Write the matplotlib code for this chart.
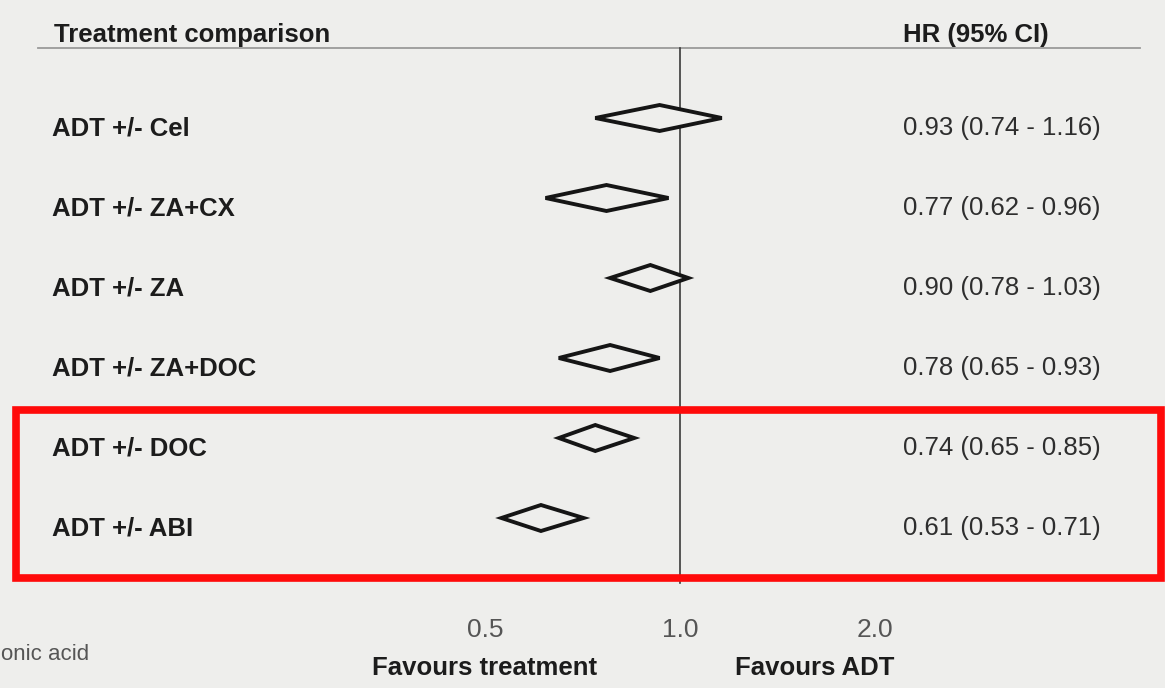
import numpy as np
import matplotlib
matplotlib.use("Agg")
import matplotlib.pyplot as plt
from matplotlib.patches import Polygon, Rectangle

# Hazard ratios with 95% CI for each treatment comparison
comparisons = ["ADT +/- Cel", "ADT +/- ZA+CX", "ADT +/- ZA", "ADT +/- ZA+DOC",
               "ADT +/- DOC", "ADT +/- ABI"]
hr = [0.93, 0.77, 0.90, 0.78, 0.74, 0.61]
ci_low = [0.74, 0.62, 0.78, 0.65, 0.65, 0.53]
ci_high = [1.16, 0.96, 1.03, 0.93, 0.85, 0.71]
highlighted = ["ADT +/- DOC", "ADT +/- ABI"]
x_ticks = [0.5, 1.0, 2.0]

plt.rcParams['font.family'] = ['Liberation Sans', 'DejaVu Sans']
bg = "#eeeeec"
ink = "#1c1c1c"

W, H = 1165, 688
fig = plt.figure(figsize=(W / 100, H / 100), dpi=100, facecolor=bg)
ax = fig.add_axes([0, 0, 1, 1])
ax.set_facecolor(bg)
ax.axis("off")

# log2 axis: HR 1.0 sits at x=680 px, one doubling is ~195 px
x_ref, per_doubling = 680, 195
ax.set_xscale("log", base=2)
ax.set_xlim(2 ** (-x_ref / per_doubling), 2 ** ((W - x_ref) / per_doubling))
ax.set_ylim(H, 0)

ytr = ax.get_yaxis_transform()   # x in axes fraction, y in pixel rows
def px(x):
    return x / W

row_top, row_step = 128, 80
rows = [row_top + row_step * i for i in range(len(comparisons))]

# header
ax.plot([px(38), px(1140)], [48, 48], transform=ytr, color="#9a9a9a", lw=1.3)
ax.text(px(54), 35, "Treatment comparison", transform=ytr, ha="left", va="center",
        fontsize=18.5, fontweight="bold", color=ink)
ax.text(px(903), 35, "HR (95% CI)", transform=ytr, ha="left", va="center",
        fontsize=18.5, fontweight="bold", color=ink)

# line of no effect
ax.plot([1.0, 1.0], [48, 583], color="#3a3a3a", lw=1.2)

half_h = 13
for name, y, m, lo, hi in zip(comparisons, rows, hr, ci_low, ci_high):
    yd = y - 10
    diamond = Polygon([(lo, yd), (m, yd - half_h), (hi, yd), (m, yd + half_h)],
                      closed=True, facecolor=bg, edgecolor="#151515", lw=2.8,
                      joinstyle="miter", zorder=3)
    ax.add_patch(diamond)
    ax.text(px(52), y, name, transform=ytr, ha="left", va="center",
            fontsize=18.5, fontweight="bold", color=ink)
    ax.text(px(903), y, f"{m:.2f} ({lo:.2f} - {hi:.2f})", transform=ytr,
            ha="left", va="center", fontsize=18.5, color="#2e2e2e")

# red box around the highlighted comparisons
hl_rows = [rows[comparisons.index(n)] for n in highlighted]
box = Rectangle((px(16), min(hl_rows) - 38), px(1161) - px(16),
                max(hl_rows) - min(hl_rows) + 88, transform=ytr,
                fill=False, edgecolor="#ff0a0a", lw=5.5, zorder=4)
ax.add_patch(box)

# x tick labels and direction captions
for t in x_ticks:
    ax.text(t, 630, f"{t:.1f}", ha="center", va="center", fontsize=19,
            color="#555555")
ax.text(2 ** (-1.0), 668, "Favours treatment", ha="center", va="center",
        fontsize=18.5, fontweight="bold", color=ink)
ax.text(2 ** 0.69, 668, "Favours ADT", ha="center", va="center",
        fontsize=18.5, fontweight="bold", color=ink)

# footnote fragment at the left edge
ax.text(px(1), 655, "onic acid", transform=ytr, ha="left",
        va="center", fontsize=16, color="#555555")

fig.savefig("out.png", dpi=100, facecolor=bg)
